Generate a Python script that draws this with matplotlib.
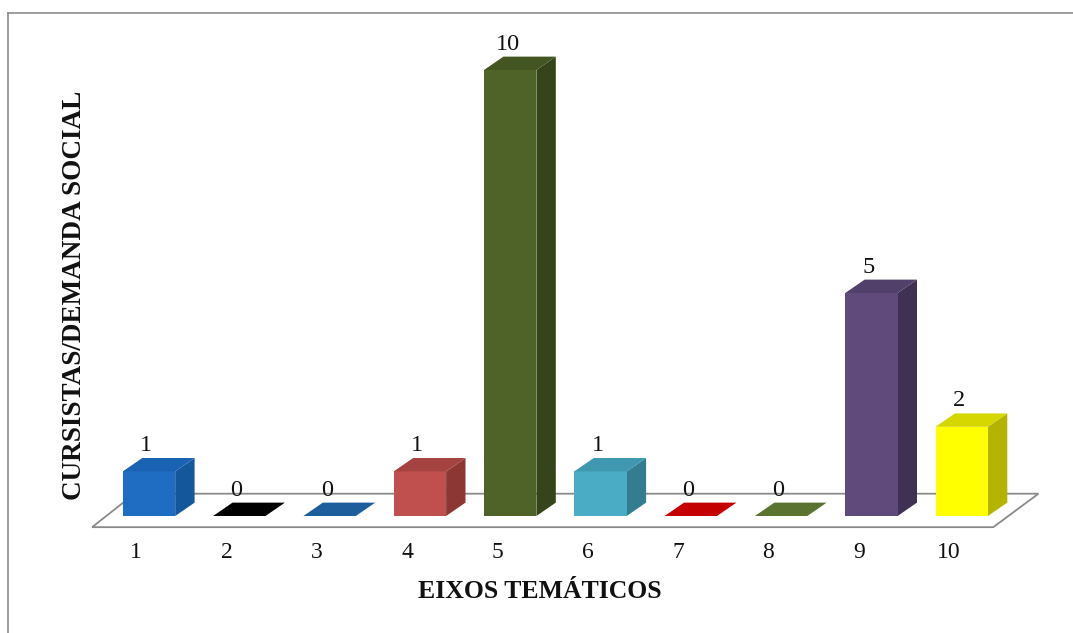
import matplotlib
matplotlib.use("Agg")
import matplotlib.pyplot as plt
from matplotlib.patches import Polygon

# Data
categories = ["1", "2", "3", "4", "5", "6", "7", "8", "9", "10"]
values = [1, 0, 0, 1, 10, 1, 0, 0, 5, 2]
front_colors = ["#1F6DC2", "#000000", "#1F5E9C", "#C0504D", "#4F6228",
                "#4BACC6", "#C40000", "#5B7330", "#604A7B", "#FFFF00"]
side_colors = ["#15579B", "#000000", "#17487A", "#8C3734", "#36441A",
               "#347D91", "#8E0000", "#435623", "#3F3153", "#B4B400"]
top_colors = ["#1A62B2", "#000000", "#1F5E9C", "#A54340", "#435521",
              "#3F98B0", "#C40000", "#5B7330", "#51406A", "#D6D600"]
x_title = "EIXOS TEMÁTICOS"
y_title = "CURSISTAS/DEMANDA SOCIAL"

W, H = 1073, 633
fig = plt.figure(figsize=(W / 100, H / 100), dpi=100)
ax = fig.add_axes([0, 0, 1, 1])
ax.set_axis_off()

# data coordinates: x = category index, y = value
px_per_x = 90.3
px_per_y = 44.6
x0_px, y0_px = 149, 516
ax.set_xlim(1 - x0_px / px_per_x, 1 + (W - x0_px) / px_per_x)
ax.set_ylim(-(H - y0_px) / px_per_y, y0_px / px_per_y)

serif = ["Liberation Serif", "DejaVu Serif"]

# bar geometry (data units)
bw = 0.58
ddx, ddy = 0.215, 0.30

# floor parallelogram
floor = Polygon([(0.37, -0.25), (10.35, -0.25), (10.85, 0.50), (0.84, 0.50)],
                closed=True, facecolor="white", edgecolor="#8a8a8a", lw=1.3, zorder=1)
ax.add_patch(floor)

for i, (cat, v) in enumerate(zip(categories, values)):
    xc = i + 1
    xl, xr = xc - bw / 2, xc + bw / 2
    if v > 0:
        side = Polygon([(xr, 0), (xr + ddx, ddy), (xr + ddx, v + ddy), (xr, v)],
                       closed=True, facecolor=side_colors[i], edgecolor="none", zorder=3)
        ax.add_patch(side)
        front = Polygon([(xl, 0), (xr, 0), (xr, v), (xl, v)],
                        closed=True, facecolor=front_colors[i], edgecolor="none", zorder=3)
        ax.add_patch(front)
    top = Polygon([(xl, v), (xr, v), (xr + ddx, v + ddy), (xl + ddx, v + ddy)],
                  closed=True, facecolor=top_colors[i], edgecolor="none", zorder=3)
    ax.add_patch(top)
    ax.text(xc - 0.03, v + 0.58, str(v), ha="center", va="center",
            fontsize=17.5, family=serif, color="#111111", zorder=4)
    ax.text(xc - 0.14, -0.82, cat, ha="center", va="center",
            fontsize=17, family=serif, color="#111111", zorder=4)

# axis titles
fig.text(540 / W, 1 - 592 / H, x_title, ha="center", va="center",
         fontsize=18.5, fontweight="bold", family=serif, color="#111111")
fig.text(75 / W, 1 - 295 / H, y_title, ha="center", va="center", rotation=90,
         fontsize=19.5, fontweight="bold", family=serif, color="#111111")

# outer frame (top and left edges)
fig.add_artist(plt.Line2D([8 / W, 1.0], [1 - 13 / H, 1 - 13 / H],
                          transform=fig.transFigure, color="#8c8c8c", lw=1.2))
fig.add_artist(plt.Line2D([8 / W, 8 / W], [1 - 13 / H, 0.0],
                          transform=fig.transFigure, color="#8c8c8c", lw=1.2))

fig.savefig("out.png", dpi=100, facecolor="white")
